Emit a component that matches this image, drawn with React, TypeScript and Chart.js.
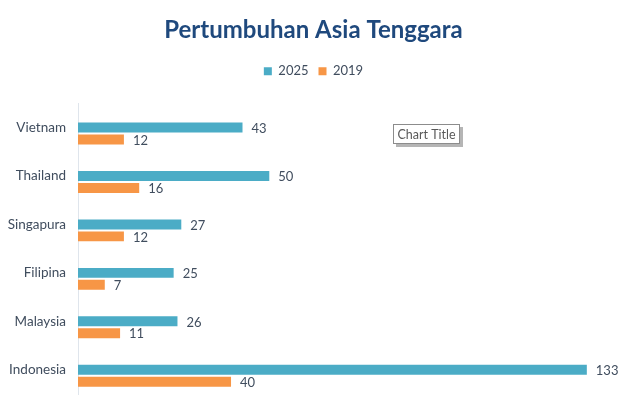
import React, { useEffect, useRef } from "react";
import { Chart, registerables } from "chart.js";

Chart.register(...registerables);

const categories = ["Vietnam", "Thailand", "Singapura", "Filipina", "Malaysia", "Indonesia"];
const series2025 = [43, 50, 27, 25, 26, 133];
const series2019 = [12, 16, 12, 7, 11, 40];
const spacer = [null, null, null, null, null, null];
const seriesNames = ["2025", "2019"];
const chartTitle = "Pertumbuhan Asia Tenggara";
const strayTitle = "Chart Title";
const axisMax = 143.5;

const TEXT = "#404d5e";
const FONT = "Lato, 'Open Sans', sans-serif";

const valueLabels = {
  id: "valueLabels",
  afterDatasetsDraw(chart: any) {
    const ctx = chart.ctx;
    ctx.save();
    ctx.font = `13px ${FONT}`;
    ctx.fillStyle = TEXT;
    ctx.textAlign = "left";
    ctx.textBaseline = "middle";
    chart.data.datasets.forEach((ds: any, di: number) => {
      if (!ds.label) return;
      const meta = chart.getDatasetMeta(di);
      meta.data.forEach((bar: any, i: number) => {
        if (ds.data[i] == null) return;
        ctx.fillText(String(ds.data[i]), bar.x + 9, bar.y + 1);
      });
    });
    ctx.restore();
  },
};

const strayBox = {
  id: "strayBox",
  afterDraw(chart: any) {
    const ctx = chart.ctx;
    const x = 393, y = 124, w = 67, h = 20;
    ctx.save();
    ctx.fillStyle = "rgba(120,120,120,0.55)";
    ctx.fillRect(x + 3, y + 3, w, h);
    ctx.fillStyle = "#ffffff";
    ctx.fillRect(x, y, w, h);
    ctx.strokeStyle = "#8c8c8c";
    ctx.lineWidth = 1;
    ctx.strokeRect(x + 0.5, y + 0.5, w - 1, h - 1);
    ctx.font = `12.5px ${FONT}`;
    ctx.fillStyle = "#595959";
    ctx.textAlign = "center";
    ctx.textBaseline = "middle";
    ctx.fillText(strayTitle, x + w / 2, y + h / 2 + 1);
    ctx.restore();
  },
};

export default function App() {
  const ref = useRef<HTMLCanvasElement>(null);
  useEffect(() => {
    if (!ref.current) return;
    const common = { categoryPercentage: 0.74, barPercentage: 0.83 };
    const chart = new Chart(ref.current, {
      type: "bar",
      data: {
        labels: categories,
        datasets: [
          { label: "", data: spacer, backgroundColor: "rgba(0,0,0,0)", ...common },
          { label: seriesNames[0], data: series2025, backgroundColor: "#4BACC6", ...common },
          { label: seriesNames[1], data: series2019, backgroundColor: "#F79646", ...common },
        ],
      },
      options: {
        indexAxis: "y",
        animation: false,
        responsive: true,
        maintainAspectRatio: false,
        layout: { padding: { left: 0, right: 3, top: 0, bottom: 13 } },
        scales: {
          x: {
            position: "top",
            min: 0,
            max: axisMax,
            display: true,
            ticks: { display: false },
            grid: { display: false },
            border: { display: false },
            afterFit: (scale: any) => {
              scale.height = 15.5;
            },
          },
          y: {
            grid: { display: false, drawTicks: false },
            border: { display: true, color: "#dfe5ec", width: 1 },
            ticks: {
              color: TEXT,
              font: { family: FONT, size: 13.5 },
              padding: 12,
            },
            afterFit: (scale: any) => {
              scale.width = 78;
              scale.paddingTop = 0;
              scale.paddingBottom = 0;
            },
          },
        },
        plugins: {
          title: {
            display: true,
            text: chartTitle,
            color: "#1F497D",
            font: { family: FONT, size: 24, weight: "bold" },
            padding: { top: 16, bottom: 10 },
          },
          legend: {
            display: true,
            position: "top",
            labels: {
              boxWidth: 8,
              boxHeight: 8,
              color: TEXT,
              font: { family: FONT, size: 13 },
              padding: 10,
              filter: (item: any) => !!item.text,
            },
          },
          tooltip: { enabled: false },
        },
      },
      plugins: [valueLabels, strayBox],
    });
    return () => chart.destroy();
  }, []);
  return (
    <div style={{ position: "absolute", left: 0, top: 0, width: 630, height: 407, background: "#fff" }}>
      <canvas ref={ref} />
    </div>
  );
}
